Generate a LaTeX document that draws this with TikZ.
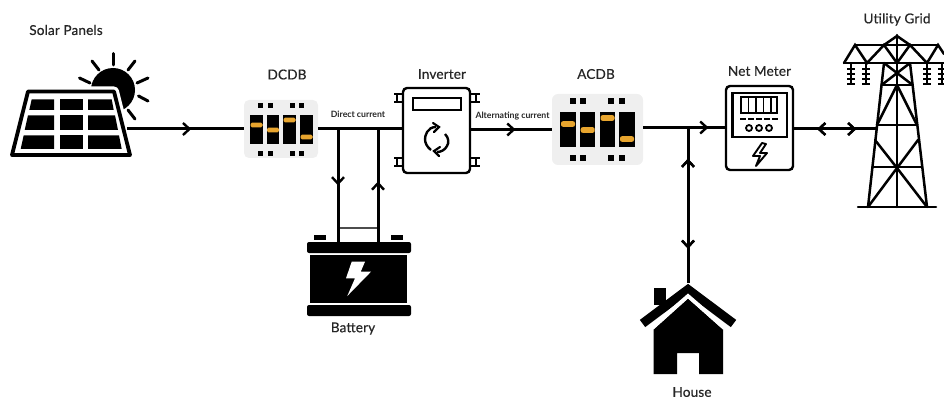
\documentclass[tikz,border=0pt]{standalone}
\usepackage{fontspec}
\setmainfont{Lato}
\usetikzlibrary{arrows.meta,decorations.markings}
\definecolor{panelgrey}{HTML}{EFEFEF}
\definecolor{switchorange}{HTML}{E8A52E}
\tikzset{
  x=1pt,y=-1pt,
  wire/.style={line width=3pt,black},
  chev/.tip={Straight Barb[length=6.5pt,width=12pt,line width=2.4pt]},
  flow/.style={postaction={decorate},decoration={markings,mark=at position #1 with {\arrow{chev}}}},
  flowback/.style={postaction={decorate},decoration={markings,mark=at position #1 with {\arrowreversed{chev}}}},
  label/.style={font=\fontsize{13.6}{15}\selectfont\addfontfeatures{FakeBold=0.5,LetterSpace=1},text=black!85,inner sep=0pt},
  smalllabel/.style={font=\fontsize{8.7}{10}\bfseries\selectfont,text=black!85,inner sep=0pt},
  dbbox/.style={fill=panelgrey,rounded corners=5pt,inner sep=0pt,draw=none},
  unitbox/.style={draw=black,line width=2.4pt,fill=white,rounded corners=4pt,inner sep=0pt},
  tower/.style={line width=2.5pt,black,line cap=round},
}
\begin{document}
\begin{tikzpicture}
\useasboundingbox (0,0) rectangle (944,398);
% ---------- sun
\fill (113,90) circle[radius=22pt];
\foreach \a/\b/\c/\d in {113.3/53.5/113.3/65,92/61/99/70,135/61/128/70,79.5/78/90/83,148/78/137/83,148/101/138.5/96,135/119/128/110}{
  \draw[line width=3pt,line cap=round] (\a,\b) -- (\c,\d);}
% ---------- solar panel
\draw[white,line width=10pt,fill=white,line join=round] (28,91.5) -- (114,91.5) -- (130,155) -- (12,155) -- cycle;
\draw[line width=3.8pt,fill=white,line join=round] (28,91.5) -- (114,91.5) -- (130,155) -- (12,155) -- cycle;
\fill (31.7,99.3) -- (54,99.3) -- (54,110) -- (29.3,110) -- cycle;
\fill (59.5,99.3) rectangle (82.5,110);
\fill (88,99.3) -- (111.7,99.3) -- (113.7,110) -- (88,110) -- cycle;
\fill (28,115.3) -- (54,115.3) -- (54,130) -- (24.7,130) -- cycle;
\fill (59.5,115.3) rectangle (82.5,130);
\fill (88,115.3) -- (115,115.3) -- (118,130) -- (88,130) -- cycle;
\fill (23.7,135.3) -- (54,135.3) -- (54,149) -- (20.7,149) -- cycle;
\fill (59.5,135.3) rectangle (82.5,149);
\fill (88,135.3) -- (119,135.3) -- (121.7,149) -- (88,149) -- cycle;
\coordinate (pvout) at (127,129);
% ---------- DCDB
\node[dbbox,minimum width=74pt,minimum height=58pt] (dcdb) at (281,129) {};
\foreach \x/\o in {256.5/125,273/130,289.5/120,306.5/137}{
  \fill (\x-6.2,115) rectangle (\x+6.2,144.5);
  \fill[switchorange,rounded corners=1.5pt] (\x-6,\o-2.4) rectangle (\x+6,\o+2.4);}
\foreach \x in {260.5,270,292.5,301.5}{
  \fill (\x-2.5,103) rectangle (\x+2.5,108);
  \fill (\x-2.5,151.5) rectangle (\x+2.5,156.5);}
% ---------- Inverter
\node[unitbox,minimum width=67pt,minimum height=85pt] (inv) at (436.5,130.5) {};
\foreach \y in {98,162}{
  \foreach \x/\s in {403/-1,470/1}{
    \draw[line width=2.1pt] (\x,\y-3.8) -- (\x+\s*9.5,\y-3.8) (\x,\y+3.8) -- (\x+\s*9.5,\y+3.8) (\x+\s*6,\y-3.8) -- (\x+\s*6,\y+3.8);}}
\draw[line width=2.2pt] (413,98) rectangle (461,110);
\draw[line width=2.4pt] (436,127) .. controls (427,127) and (425,136) .. (425,139) .. controls (425,143) and (427,147) .. (431,150);
\draw[line width=2.4pt] (445,134) .. controls (449,138) and (449,143) .. (447,146) .. controls (445,150) and (441,152) .. (437,152);
\draw[line width=2.2pt,line cap=round] (433,123) -- (439,127) -- (434,132);
\draw[line width=2.2pt,line cap=round] (440,147) -- (434,151) -- (439,156);
% ---------- ACDB
\node[dbbox,minimum width=91pt,minimum height=71pt,rounded corners=6pt] (acdb) at (597.5,129.5) {};
\foreach \x/\o in {568/124,587.7/130,607.5/118,627/139}{
  \fill (\x-7.6,112) rectangle (\x+7.6,147);
  \fill[switchorange,rounded corners=2pt] (\x-7,\o-2.8) rectangle (\x+7,\o+2.8);}
\foreach \x in {573,583.3,611,621.7}{
  \fill (\x-3,97.7) rectangle (\x+3,103.7);
  \fill (\x-3,155.3) rectangle (\x+3,161.3);}
% ---------- Net meter
\node[unitbox,minimum width=67pt,minimum height=84pt] (meter) at (759.5,128) {};
\draw[line width=2.2pt] (732.5,93) rectangle (787,137);
\draw[line width=2pt] (741,97.5) rectangle (777,113);
\foreach \x in {748.5,756,763.5,771}{\draw[line width=1.8pt] (\x,97.5) -- (\x,113);}
\foreach \x in {743,751,759,767,775}{\draw[line width=1.8pt] (\x-2.8,119) -- (\x+2.8,119);}
\foreach \x in {749,759,769}{\draw[line width=1.8pt] (\x,128) circle[radius=3pt];}
\draw[line width=1.9pt,line join=round] (762,143) -- (753,156) -- (760,156) -- (756,166) -- (767,153) -- (760,153) -- (766,144) -- cycle;
% ---------- Utility tower
\draw[tower] (897,35) -- (897,207);
\draw[tower] (858,207) -- (936,207);
\draw[tower] (884,63) -- (868,207) (910,63) -- (927,207);
\draw[tower] (855,45) -- (938,45) (844,63) -- (944,63);
\draw[tower] (844,63) -- (855,45) -- (867,63) -- (884,45) -- (897,63) -- (910,45) -- (927,63) -- (938,45) -- (944,54);
\draw[tower] (884,45) -- (897,36) -- (910,45);
\draw[tower] (881.6,85) -- (912.6,85) (877,125) -- (917,125) (872.4,167) -- (922.2,167);
\draw[tower] (884,63) -- (912.6,85) (910,63) -- (881.6,85);
\draw[tower] (877,125) -- (897,85) -- (917,125);
\draw[tower] (875,140) -- (897,168) -- (918,140);
\draw[tower] (868,207) -- (897,168) -- (927,207);
\foreach \x in {851,866,927,942}{
  \draw[line width=2.2pt] (\x,64) -- (\x,85);
  \foreach \y in {69,74,79,84}{\draw[line width=2pt] (\x-4,\y) -- (\x+4,\y);}}
\coordinate (towerin) at (876,129);
% ---------- Battery
\fill (314,235) rectangle (326,239.5);
\fill (391,235) rectangle (403,239.5);
\node[fill=black,rounded corners=2pt,minimum width=104pt,minimum height=11pt,inner sep=0pt] (batt) at (359,247.5) {};
\fill (310,254.5) rectangle (407,303);
\fill[rounded corners=2pt] (307,305) rectangle (411,316);
\fill[white] (351.7,261.7) -- (365,261.7) -- (360.7,271.7) -- (371,271.7) -- (347.3,296) -- (355,278.3) -- (346,278.3) -- cycle;
\draw[line width=1.2pt,black!70] (338,228) -- (378,228);
% ---------- House
\coordinate (roof) at (688,283);
\fill (654,287.5) rectangle (666,305);
\draw[white,line width=3pt] (645,328) -- (688,291) -- (731,328);
\draw[line width=9pt,line join=miter] (642.5,323.5) -- (688,289.5) -- (733.5,323.5);
\fill (688,298.5) -- (723,329.5) -- (723,374) -- (699,374) -- (699,353) -- (677,353) -- (677,374) -- (653.5,374) -- (653.5,329.5) -- cycle;
\fill[white] (688,293.5) -- (721,322) -- (723,329.5) -- (688,298.5) -- (653.5,329.5) -- (655,322) -- cycle;
% ---------- Connectors
\draw[wire,flow=0.55] (pvout) -- (dcdb.west);
\draw[wire] (dcdb.east) -- (dcdb.east -| inv.west);
\coordinate (bd) at (338,129);
\coordinate (bu) at (378,129);
\draw[wire,flow=0.5] (bd) -- (bd |- batt.north);
\draw[wire,flowback=0.465] (bu) -- (bu |- batt.north);
\draw[wire,flow=0.55] (inv.east |- acdb.west) -- (acdb.west);
\coordinate (mjoin) at (688,127.5);
\draw[wire,flow=0.8] (acdb.east |- mjoin) -- (meter.west |- mjoin);
\draw[wire,flowback=0.2,flow=0.78] (mjoin) -- (roof);
\draw[wire,flowback=0.28,flow=0.76] (meter.east |- towerin) -- (towerin);
% ---------- Labels
\node[label] (t1) at (66,30) {Solar Panels};
\node[label] (t2) at (287,74.5) {DCDB};
\node[label] (t3) at (442,74) {Inverter};
\node[label] (t4) at (596,74) {ACDB};
\node[label] (t5) at (759.5,71) {Net Meter};
\node[label] (t6) at (897,19.5) {Utility Grid};
\node[label] (t7) at (353,328.5) {Battery};
\node[label] (t8) at (692,392) {House};
\node[smalllabel] (t9) at (358,114) {Direct current};
\node[smalllabel] (t10) at (512.5,116) {Alternating current};
\end{tikzpicture}
\end{document}
